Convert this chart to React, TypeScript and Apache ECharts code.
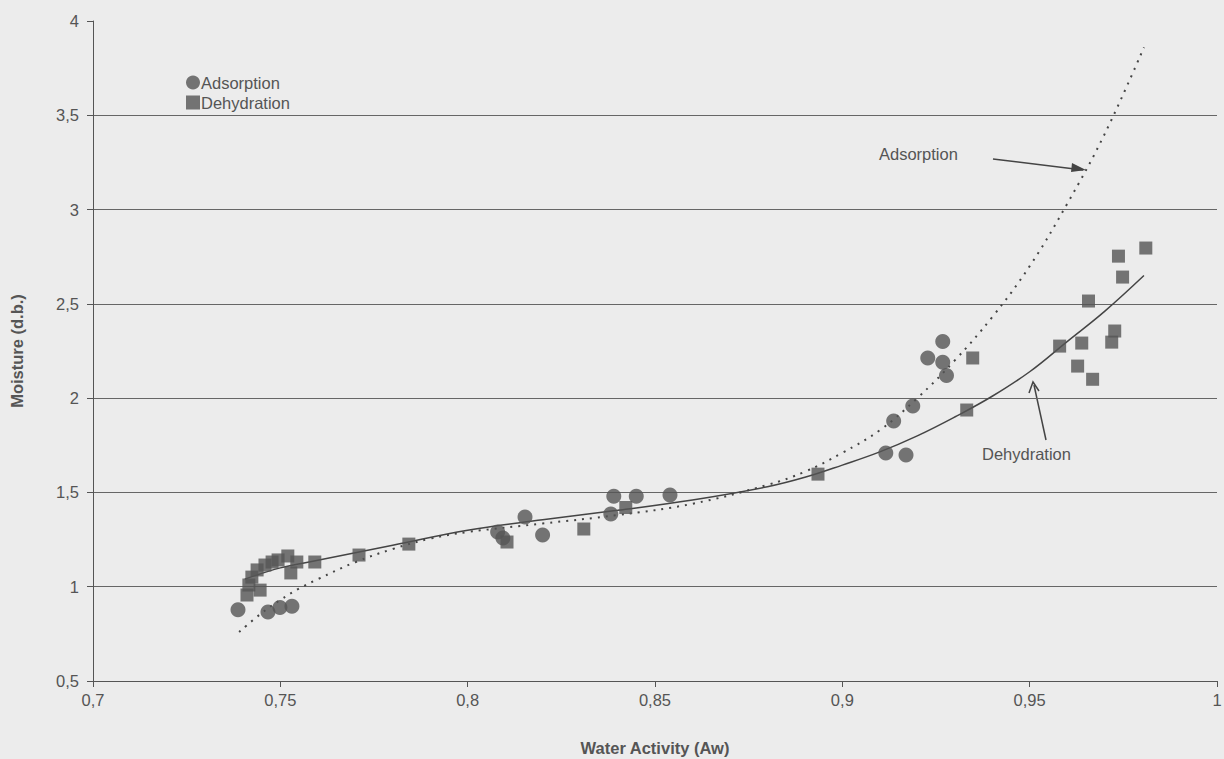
import React, { useEffect, useRef } from "react";
import * as echarts from "echarts";

const adsorptionPoints: [number, number][] = [
  [0.7387, 0.878], [0.7467, 0.866], [0.7499, 0.89], [0.7531, 0.896],
  [0.808, 1.29], [0.8094, 1.258], [0.8153, 1.37], [0.82, 1.274],
  [0.8382, 1.385], [0.839, 1.48], [0.845, 1.48], [0.854, 1.486],
  [0.9116, 1.709], [0.917, 1.698], [0.9137, 1.879], [0.9188, 1.958],
  [0.9228, 2.213], [0.9268, 2.19], [0.9278, 2.12], [0.9268, 2.3],
];

const dehydrationPoints: [number, number][] = [
  [0.7411, 0.956], [0.7416, 1.009], [0.7424, 1.051], [0.7438, 1.089],
  [0.7446, 0.982], [0.7459, 1.115], [0.7478, 1.131], [0.7494, 1.142],
  [0.752, 1.163], [0.7528, 1.073], [0.7544, 1.131], [0.7592, 1.131],
  [0.771, 1.168], [0.7843, 1.226], [0.8105, 1.237], [0.831, 1.306],
  [0.8422, 1.42], [0.8935, 1.597], [0.9332, 1.937], [0.9348, 2.213],
  [0.958, 2.276], [0.9628, 2.17], [0.9639, 2.292], [0.9668, 2.1],
  [0.9657, 2.515], [0.9719, 2.297], [0.9727, 2.356], [0.9748, 2.642],
  [0.9737, 2.753], [0.981, 2.796],
];

const adsorptionFit: [number, number][] = [
  [0.739, 0.76], [0.745, 0.86], [0.75, 0.93], [0.755, 0.99], [0.76, 1.04],
  [0.77, 1.13], [0.78, 1.2], [0.79, 1.255], [0.8, 1.29], [0.82, 1.335],
  [0.84, 1.38], [0.86, 1.44], [0.88, 1.54], [0.89, 1.61], [0.9, 1.71],
  [0.91, 1.83], [0.92, 2.0], [0.93, 2.2], [0.94, 2.43], [0.95, 2.7],
  [0.96, 3.03], [0.97, 3.4], [0.9805, 3.86],
];

const dehydrationFit: [number, number][] = [
  [0.7405, 1.04], [0.75, 1.1], [0.76, 1.14], [0.78, 1.22], [0.8, 1.3],
  [0.82, 1.355], [0.84, 1.405], [0.86, 1.46], [0.88, 1.53], [0.89, 1.58],
  [0.9, 1.645], [0.91, 1.715], [0.92, 1.8], [0.93, 1.9], [0.94, 2.01],
  [0.95, 2.14], [0.96, 2.3], [0.97, 2.46], [0.9805, 2.65],
];

const yGridColors = ["#666", "#666", "#666", "#666", "#666", "#666", "#666", "rgba(0,0,0,0)"];

const fmt = (v: number) => String(Math.round(v * 100) / 100).replace(".", ",");

export default function App() {
  const ref = useRef<HTMLDivElement>(null);
  useEffect(() => {
    document.body.style.margin = "0";
    const chart = echarts.init(ref.current!, null, { renderer: "svg" });
    const textColor = "#555";
    const font = "'Liberation Sans', Arial, sans-serif";
    const fs = 16.5;
    chart.setOption({
      animation: false,
      backgroundColor: "#ececec",
      textStyle: { fontFamily: font },
      grid: { left: 93, right: 7, top: 21, bottom: 78, containLabel: false, outerBoundsMode: "none" },
      legend: {
        left: 186,
        top: 74,
        orient: "vertical",
        itemGap: 3,
        itemWidth: 14,
        itemHeight: 14,
        padding: 0,
        textStyle: { fontSize: fs, color: textColor, fontFamily: font, padding: [0, 0, 0, -4] },
        data: [
          { name: "Adsorption", icon: "circle" },
          { name: "Dehydration", icon: "rect" },
        ],
      },
      xAxis: {
        type: "value",
        min: 0.7,
        max: 1,
        interval: 0.05,
        name: "Water Activity (Aw)",
        nameLocation: "middle",
        nameGap: 58,
        nameTextStyle: { fontSize: fs, fontWeight: "bold", color: textColor, fontFamily: font },
        axisLine: { show: true, lineStyle: { color: "#555", width: 1 } },
        axisTick: { show: true, length: 6, lineStyle: { color: "#555" } },
        axisLabel: { fontSize: fs, color: textColor, margin: 10, formatter: fmt },
        splitLine: { show: false },
      },
      yAxis: {
        type: "value",
        min: 0.5,
        max: 4,
        interval: 0.5,
        name: "Moisture (d.b.)",
        nameLocation: "middle",
        nameGap: 68,
        nameRotate: 90,
        nameTextStyle: { fontSize: fs, fontWeight: "bold", color: textColor, fontFamily: font },
        axisLine: { show: true, lineStyle: { color: "#555", width: 1 } },
        axisTick: { show: true, length: 6, lineStyle: { color: "#555" } },
        axisLabel: { fontSize: fs, color: textColor, margin: 14, formatter: fmt },
        splitLine: { show: true, lineStyle: { color: yGridColors, width: 1 } },
      },
      series: [
        {
          name: "Adsorption fit",
          type: "line",
          data: adsorptionFit,
          smooth: 0.4,
          showSymbol: false,
          lineStyle: { color: "#444", width: 2, type: [2, 6] },
          silent: true,
          z: 2,
        },
        {
          name: "Dehydration fit",
          type: "line",
          data: dehydrationFit,
          smooth: 0.4,
          showSymbol: false,
          lineStyle: { color: "#444", width: 1.5 },
          silent: true,
          z: 2,
        },
        {
          name: "Adsorption",
          type: "scatter",
          data: adsorptionPoints,
          symbol: "circle",
          symbolSize: 15,
          itemStyle: { color: "#555" },
          z: 3,
        },
        {
          name: "Dehydration",
          type: "scatter",
          data: dehydrationPoints,
          symbol: "rect",
          symbolSize: 13,
          itemStyle: { color: "#555" },
          z: 3,
        },
      ],
      graphic: [
        {
          type: "text",
          left: 879,
          top: 145,
          style: { text: "Adsorption", fontSize: fs, fill: textColor, fontFamily: font },
        },
        {
          type: "line",
          shape: { x1: 993, y1: 159, x2: 1083, y2: 170 },
          style: { stroke: "#444", lineWidth: 1.5 },
        },
        {
          type: "polygon",
          shape: { points: [[1086, 170], [1072, 163], [1071, 172]] },
          style: { fill: "#444" },
        },
        {
          type: "text",
          left: 982,
          top: 445,
          style: { text: "Dehydration", fontSize: fs, fill: textColor, fontFamily: font },
        },
        {
          type: "line",
          shape: { x1: 1046, y1: 440, x2: 1034, y2: 385 },
          style: { stroke: "#444", lineWidth: 1.5 },
        },
        {
          type: "polyline",
          shape: { points: [[1029, 393], [1033, 382], [1039, 391]] },
          style: { stroke: "#444", lineWidth: 1.5, fill: "none" },
        },
      ],
    });
    return () => chart.dispose();
  }, []);
  return <div ref={ref} style={{ width: 1224, height: 759 }} />;
}
